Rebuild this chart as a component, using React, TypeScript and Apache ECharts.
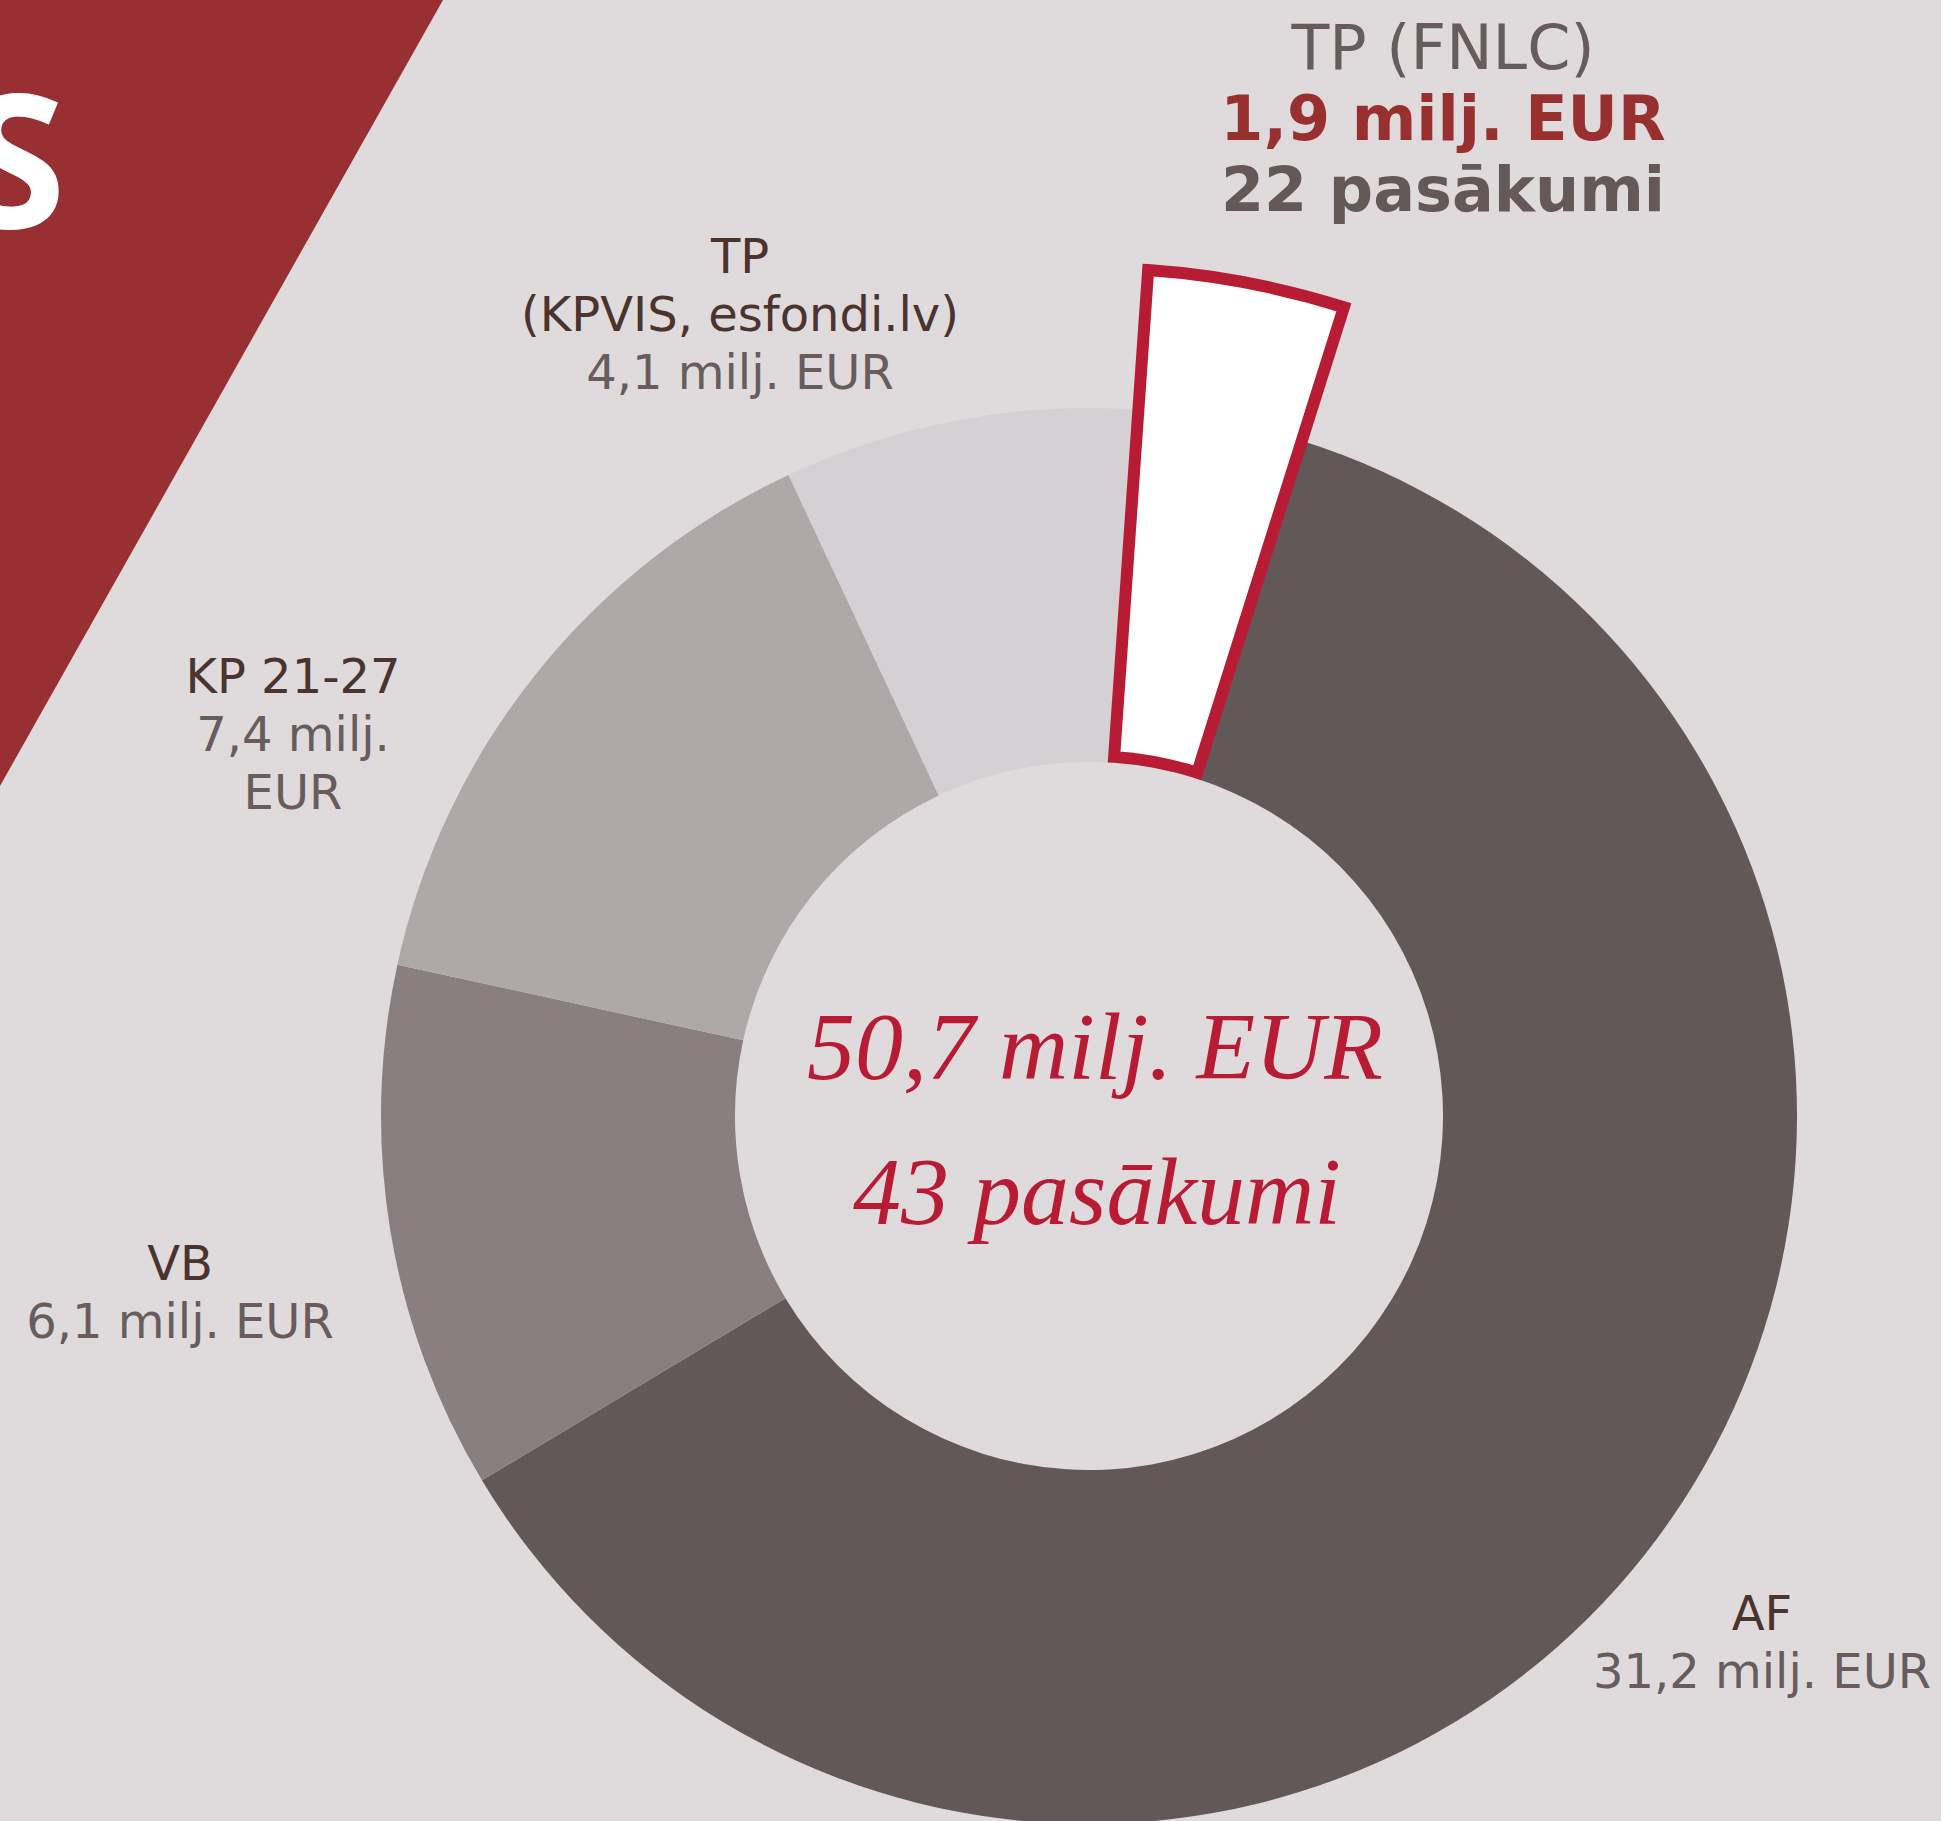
import React, { useEffect, useRef } from "react";
import * as echarts from "echarts";

// ---- data ----
const categories = ["TP (FNLC)", "AF", "VB", "KP 21-27", "TP (KPVIS, esfondi.lv)"];
const labelNameLines = [["TP (FNLC)"], ["AF"], ["VB"], ["KP 21-27"], ["TP", "(KPVIS, esfondi.lv)"]];
const valuesMEUR = [1.9, 31.2, 6.1, 7.4, 4.1];
const measureCounts: (number | null)[] = [22, null, null, null, null];
const totalMeasures = 43;
const highlightIndex = [0];

// ---- layout / style ----
const W = 1941;
const H = 1821;
const CENTER = [1089, 1116];
const RING = [354, 708];
const HIGHLIGHT_RING = [360, 848];
const START_ANGLE = 86;
const sliceColors = ["transparent", "#635858", "#897f80", "#aea8a9", "#d5d0d3"];
const labelPlacement = [
  { x: 1443, y: 118, wrapValue: false },
  { x: 1762, y: 1642, wrapValue: false },
  { x: 180, y: 1292, wrapValue: false },
  { x: 293, y: 734, wrapValue: true },
  { x: 740, y: 314, wrapValue: false },
];

const fmt = (v: number) => v.toFixed(1).replace(".", ",");

export default function App() {
  const ref = useRef<HTMLDivElement>(null);
  useEffect(() => {
    if (!ref.current) return;
    const chart = echarts.init(ref.current, null, { renderer: "svg" });
    const total = valuesMEUR.reduce((a, b) => a + b, 0);

    const labelText = (i: number) => {
      const name = labelNameLines[i];
      if (highlightIndex.includes(i)) {
        const lines = [
          ...name.map((n) => `{h1|${n}}`),
          `{h2|${fmt(valuesMEUR[i])} milj. EUR}`,
        ];
        if (measureCounts[i] != null) lines.push(`{h3|${measureCounts[i]} pasākumi}`);
        return lines.join("\n");
      }
      const valueLines = labelPlacement[i].wrapValue
        ? [`{v|${fmt(valuesMEUR[i])} milj.}`, `{v|EUR}`]
        : [`{v|${fmt(valuesMEUR[i])} milj. EUR}`];
      return [...name.map((n) => `{n|${n}}`), ...valueLines].join("\n");
    };

    const baseFont = "DejaVu Sans";
    const rich = {
      n: { color: "#4b342e", fontSize: 48, lineHeight: 58, fontFamily: baseFont, align: "center" },
      v: { color: "#685c5c", fontSize: 48, lineHeight: 58, fontFamily: baseFont, align: "center" },
      h1: { color: "#675b5b", fontSize: 62, lineHeight: 71, fontFamily: baseFont, align: "center" },
      h2: { color: "#98302f", fontSize: 62, lineHeight: 71, fontFamily: baseFont, fontWeight: "bold", align: "center" },
      h3: { color: "#645858", fontSize: 62, lineHeight: 71, fontFamily: baseFont, fontWeight: "bold", align: "center" },
    };

    const mainData = categories.map((name, i) => ({
      name,
      value: valuesMEUR[i],
      itemStyle: { color: sliceColors[i], borderWidth: 0 },
      label: { formatter: labelText(i) },
    }));

    const highlightData = categories.map((name, i) => ({
      name,
      value: valuesMEUR[i],
      itemStyle: highlightIndex.includes(i)
        ? { color: "#ffffff", borderColor: "#b81c35", borderWidth: 12, borderJoin: "miter" }
        : { color: "transparent", borderWidth: 0 },
    }));

    chart.setOption({
      animation: false,
      backgroundColor: "#dfdbdc",
      textStyle: { fontFamily: baseFont },
      graphic: [
        {
          type: "polygon",
          shape: { points: [[0, 0], [443, 0], [0, 786]] },
          style: { fill: "#983033" },
          z: 0,
        },
        {
          type: "text",
          x: 66,
          y: 155,
          style: {
            text: "S",
            fill: "#ffffff",
            font: "bold 186px 'Open Sans'",
            align: "right",
            verticalAlign: "middle",
          },
          z: 1,
        },
        {
          type: "text",
          x: 1095,
          y: 1046,
          style: {
            text: `${fmt(total)} milj. EUR`,
            fill: "#b81c35",
            font: "italic 96px 'Liberation Serif'",
            align: "center",
            verticalAlign: "middle",
          },
          z: 10,
        },
        {
          type: "text",
          x: 1097,
          y: 1191,
          style: {
            text: `${totalMeasures} pasākumi`,
            fill: "#b81c35",
            font: "italic 96px 'Liberation Serif'",
            align: "center",
            verticalAlign: "middle",
          },
          z: 10,
        },
      ],
      series: [
        {
          type: "pie",
          center: CENTER,
          radius: RING,
          startAngle: START_ANGLE,
          clockwise: true,
          avoidLabelOverlap: false,
          silent: true,
          emphasis: { disabled: true },
          data: mainData,
          label: {
            show: true,
            position: "outside",
            rich,
          },
          labelLine: { show: false },
          labelLayout: (params: any) => {
            const p = labelPlacement[params.dataIndex];
            return { x: p.x, y: p.y, align: "center", verticalAlign: "middle" };
          },
        },
        {
          type: "pie",
          center: CENTER,
          radius: HIGHLIGHT_RING,
          startAngle: START_ANGLE,
          clockwise: true,
          silent: true,
          emphasis: { disabled: true },
          data: highlightData,
          label: { show: false },
          labelLine: { show: false },
        },
      ],
    });
    return () => chart.dispose();
  }, []);
  return (
    <div
      ref={ref}
      style={{ position: "absolute", left: 0, top: 0, width: W, height: H }}
    />
  );
}
